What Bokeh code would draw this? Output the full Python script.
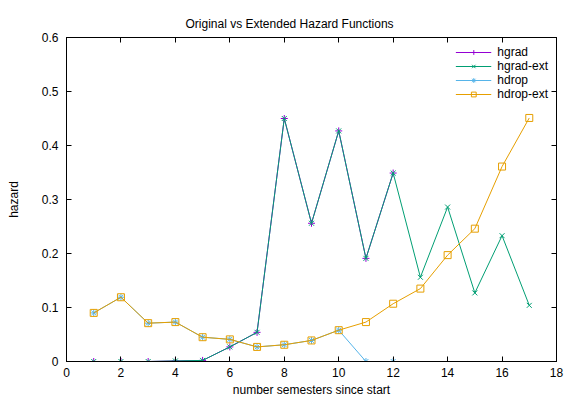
from bokeh.plotting import figure
from bokeh.models import ColumnDataSource, FixedTicker, LinearAxis, Legend, LegendItem, Range1d
from bokeh.embed import file_html
from bokeh.resources import INLINE

# ---- data ----
semesters = [1, 2, 3, 4, 5, 6, 7, 8, 9, 10, 11, 12]
semesters_ext = [1, 2, 3, 4, 5, 6, 7, 8, 9, 10, 11, 12, 13, 14, 15, 16, 17]
hgrad = [0.000, 0.000, 0.000, 0.001, 0.002, 0.027, 0.054, 0.450, 0.256, 0.427, 0.191, 0.349]
hgrad_ext = [0.000, 0.000, 0.000, 0.001, 0.002, 0.027, 0.054, 0.450, 0.256, 0.427, 0.191, 0.349,
             0.156, 0.286, 0.127, 0.233, 0.104]
hdrop = [0.090, 0.119, 0.071, 0.073, 0.045, 0.041, 0.027, 0.031, 0.039, 0.058, 0.000, 0.000]
hdrop_ext = [0.090, 0.119, 0.071, 0.073, 0.045, 0.041, 0.027, 0.031, 0.039, 0.058, 0.073, 0.107,
             0.135, 0.197, 0.246, 0.361, 0.451]
x_ticks = [0, 2, 4, 6, 8, 10, 12, 14, 16, 18]
y_ticks = [0, 0.1, 0.2, 0.3, 0.4, 0.5, 0.6]
y_tick_labels = ["0", "0.1", "0.2", "0.3", "0.4", "0.5", "0.6"]

FONT = "Liberation Sans"

p = figure(width=565, height=399, output_backend="svg", toolbar_location=None,
           x_range=Range1d(0, 18), y_range=Range1d(0, 0.6),
           min_border_left=66, min_border_right=9, min_border_top=37, min_border_bottom=38,
           title="Original vs Extended Hazard Functions")
p.title.align = "left"
p.title.offset = 119
p.title.text_font = FONT
p.title.text_font_size = "12px"
p.title.text_font_style = "normal"
p.title.text_color = "black"
p.title.standoff = 13

p.grid.visible = False
p.outline_line_color = "black"
p.outline_line_width = 1
p.background_fill_color = "white"
p.border_fill_color = "white"

def style_axis(ax, labels=True):
    ax.major_tick_in = 5
    ax.major_tick_out = 0
    ax.minor_tick_line_color = None
    ax.axis_line_color = "black"
    ax.major_tick_line_color = "black"
    ax.major_label_text_font = FONT
    ax.major_label_text_font_size = "12px"
    ax.major_label_text_color = "black" if labels else None
    ax.axis_label_text_font = FONT
    ax.axis_label_text_font_size = "12px"
    ax.axis_label_text_font_style = "normal"
    ax.axis_label_text_color = "black"

xa = p.xaxis[0]
xa.ticker = FixedTicker(ticks=x_ticks)
xa.axis_label = "number semesters since start"
xa.major_label_standoff = 6
xa.axis_label_standoff = 3
style_axis(xa)

ya = p.yaxis[0]
ya.ticker = FixedTicker(ticks=y_ticks)
ya.major_label_overrides = {t: l for t, l in zip(y_ticks, y_tick_labels)}
ya.axis_label = "hazard"
ya.major_label_standoff = 8
ya.axis_label_standoff = 18
style_axis(ya)

top = LinearAxis(ticker=FixedTicker(ticks=x_ticks), major_label_standoff=0)
style_axis(top, labels=False)
p.add_layout(top, "above")
right = LinearAxis(ticker=FixedTicker(ticks=y_ticks), major_label_standoff=0)
style_axis(right, labels=False)
p.add_layout(right, "right")

src_o = ColumnDataSource(dict(x=semesters, hgrad=hgrad, hdrop=hdrop))
src_e = ColumnDataSource(dict(x=semesters_ext, hgrad_ext=hgrad_ext, hdrop_ext=hdrop_ext))

c_grad = "#9400d3"
c_grad_ext = "#009e73"
c_drop = "#56b4e9"
c_drop_ext = "#e69f00"

l1 = p.line("x", "hgrad", source=src_o, color=c_grad, line_width=1)
m1 = p.scatter("x", "hgrad", source=src_o, marker="cross", size=7, line_color=c_grad, fill_alpha=0)
l2 = p.line("x", "hgrad_ext", source=src_e, color=c_grad_ext, line_width=1)
m2 = p.scatter("x", "hgrad_ext", source=src_e, marker="x", size=7, line_color=c_grad_ext, fill_alpha=0)
l3 = p.line("x", "hdrop", source=src_o, color=c_drop, line_width=1)
m3 = p.scatter("x", "hdrop", source=src_o, marker="asterisk", size=7, line_color=c_drop, fill_alpha=0)
l4 = p.line("x", "hdrop_ext", source=src_e, color=c_drop_ext, line_width=1)
m4 = p.scatter("x", "hdrop_ext", source=src_e, marker="square", size=7, line_color=c_drop_ext, fill_alpha=0)

legend = Legend(items=[
    LegendItem(label="hgrad", renderers=[l1, m1]),
    LegendItem(label="hgrad-ext", renderers=[l2, m2]),
    LegendItem(label="hdrop", renderers=[l3, m3]),
    LegendItem(label="hdrop-ext", renderers=[l4, m4]),
], location="top_right")
legend.border_line_color = None
legend.background_fill_alpha = 0
legend.label_text_font = FONT
legend.label_text_font_size = "12px"
legend.label_text_color = "black"
legend.glyph_width = 36
legend.glyph_height = 12
legend.label_height = 12
legend.spacing = -4
legend.padding = 0
legend.margin = 8
legend.label_standoff = 6
p.add_layout(legend)

open("out.html", "w").write(file_html(p, INLINE))
